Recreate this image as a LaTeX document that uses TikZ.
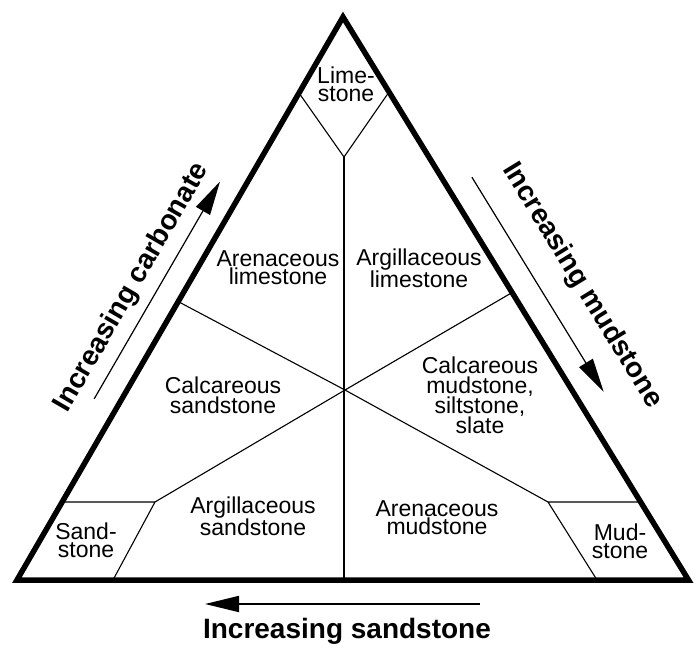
\documentclass[tikz,border=0pt]{standalone}
\usepackage{fontspec}
\setmainfont{Liberation Sans}
\usetikzlibrary{arrows.meta,calc}
\begin{document}
\begin{tikzpicture}[x=1pt,y=-1pt,
  frame/.style={line width=5.5pt, line join=miter},
  divline/.style={line width=1.1pt},
  lbl/.style={font=\fontsize{23}{18}\selectfont, align=center, inner sep=0pt},
  lblwide/.style={font=\fontsize{23}{20}\selectfont, align=center, inner sep=0pt},
  sidelbl/.style={font=\fontsize{28}{30}\selectfont\bfseries, inner sep=0pt, anchor=base},
  dirarrow/.style={line width=1.2pt, -{Triangle[length=34pt,width=16pt]}}]
\useasboundingbox (0,0) rectangle (699,654);
% triangle corners and division points
\coordinate (A) at (343,17);
\coordinate (B) at (17,580);
\coordinate (C) at (688.5,580);
\coordinate (O) at (345,390);
\coordinate (L) at (179,302);
\coordinate (R) at (513,292);
\coordinate (LimL) at (299,93);
\coordinate (LimR) at (389,92);
\coordinate (LimV) at (344,157);
\coordinate (Base) at (344,580);
\coordinate (SandT) at (62,502);
\coordinate (SandC) at (155,502);
\coordinate (SandB) at (113,580);
\coordinate (MudT) at (640.6,502);
\coordinate (MudC) at (548,502);
\coordinate (MudB) at (597,580);
% division lines
\draw[divline] (LimL) -- (LimV) -- (LimR);
\draw[divline] (LimV) -- (Base);
\draw[divline] (L) -- (O) -- (MudC);
\draw[divline] (R) -- (O) -- (SandC);
\draw[divline] (SandT) -- (SandC) -- (SandB);
\draw[divline] (MudT) -- (MudC) -- (MudB);
% frame
\draw[frame] (A) -- (B) -- (C) -- cycle;
% labels
\node[lbl] (lime) at (346,84) {Lime-\\stone};
\node[lbl] (arlim) at (278,268) {Arenaceous\\limestone};
\node[lbl] (aglim) at (419,268) {Argillaceous\\limestone};
\node[lblwide] (calsand) at (223,395) {Calcareous\\sandstone};
\node[lblwide] (calmud) at (480,395) {Calcareous\\mudstone,\\siltstone,\\slate};
\node[lbl] (agsand) at (253,516) {Argillaceous\\sandstone};
\node[lbl] (armud) at (437,518) {Arenaceous\\mudstone};
\node[lbl] (sand) at (86,540) {Sand-\\stone};
\node[lbl] (mud) at (620,541) {Mud-\\stone};
% direction arrows
\coordinate (ct) at (94.2,398.8);
\coordinate (ch) at (220,181.5);
\coordinate (mt) at (471.9,177.2);
\coordinate (mh) at (603.7,391.9);
\coordinate (st) at (480,604);
\coordinate (sh) at (205,604);
\draw[dirarrow] (ct) -- (ch);
\draw[dirarrow] (mt) -- (mh);
\draw[dirarrow, line width=1.8pt] (st) -- (sh);
\node[sidelbl, rotate=59.93] (tcarb) at (138.1,291.2) {Increasing carbonate};
\node[sidelbl, rotate=-58.46] (tmud) at (575.8,289.3) {Increasing mudstone};
\node[sidelbl] (tsand) at (347,638) {Increasing sandstone};
\end{tikzpicture}
\end{document}
